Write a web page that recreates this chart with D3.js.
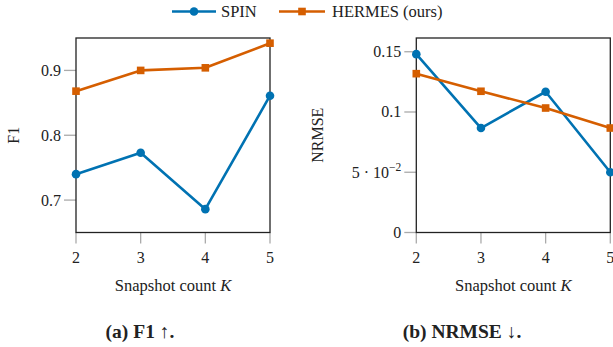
<!DOCTYPE html>
<html><head><meta charset="utf-8">
<script src="https://cdn.jsdelivr.net/npm/d3@7/dist/d3.min.js"></script>
<style>body{margin:0;background:#fff}svg{display:block}text{font-family:"Liberation Serif","Times New Roman",serif;fill:#222}</style>
</head><body><svg id="c" width="613" height="347"></svg>
<script>
const kValues = [2, 3, 4, 5];
const seriesNames = ["SPIN", "HERMES (ours)"];
const f1Spin = [0.740, 0.773, 0.686, 0.861];
const f1Hermes = [0.868, 0.900, 0.904, 0.942];
const nrmseSpin = [0.148, 0.0867, 0.1168, 0.050];
const nrmseHermes = [0.1318, 0.1172, 0.1033, 0.0867];
const f1Ticks = [0.7, 0.8, 0.9];
const nrmseTicks = [0, 0.05, 0.1, 0.15];
const nrmseTickLabels = ["0", "5 · 10", "0.1", "0.15"];
const colors = ["#0072B2", "#D55E00"];

const svg = d3.select("#c");
const plotTop = 38, plotBottom = 232.5;

function panel(x0, x1, yDomain, ticks, tickFmt, spin, hermes, yLabel, ylabX, caption, capX) {
  const g = svg.append("g");
  const x = d3.scaleLinear().domain([2, 5]).range([x0, x1]);
  const y = d3.scaleLinear().domain(yDomain).range([plotBottom, plotTop]);
  g.selectAll(".yt").data(ticks).join("line")
    .attr("x1", x0 - 12).attr("x2", x0).attr("y1", d => y(d)).attr("y2", d => y(d))
    .attr("stroke", "#aaa").attr("stroke-width", 1.3);
  g.selectAll(".xt").data(kValues).join("line")
    .attr("x1", d => x(d)).attr("x2", d => x(d)).attr("y1", plotBottom).attr("y2", plotBottom + 11)
    .attr("stroke", "#aaa").attr("stroke-width", 1.3);
  ticks.forEach((t, i) => {
    const lbl = tickFmt(t, i);
    const tx = g.append("text").attr("x", x0 - 15).attr("y", y(t) + 5.5)
      .attr("text-anchor", "end").attr("font-size", 16);
    if (lbl.sup) {
      tx.append("tspan").text(lbl.text);
      tx.append("tspan").attr("dy", -6.5).attr("font-size", 11.5).text(lbl.sup);
    } else tx.text(lbl.text);
  });
  g.selectAll(".xl").data(kValues).join("text")
    .attr("x", d => x(d)).attr("y", 263).attr("text-anchor", "middle")
    .attr("font-size", 16).text(d => d);
  g.append("rect").attr("x", x0).attr("y", plotTop).attr("width", x1 - x0).attr("height", plotBottom - plotTop)
    .attr("fill", "none").attr("stroke", "#222").attr("stroke-width", 1.3);
  const line = d3.line().x((d, i) => x(kValues[i])).y(d => y(d));
  [spin, hermes].forEach((s, si) => {
    g.append("path").datum(s).attr("d", line).attr("fill", "none")
      .attr("stroke", colors[si]).attr("stroke-width", 2.6).attr("stroke-linejoin", "round");
  });
  g.selectAll(".m1").data(spin).join("circle")
    .attr("cx", (d, i) => x(kValues[i])).attr("cy", d => y(d)).attr("r", 4.3).attr("fill", colors[0]);
  g.selectAll(".m2").data(hermes).join("rect")
    .attr("x", (d, i) => x(kValues[i]) - 3.8).attr("y", d => y(d) - 3.8)
    .attr("width", 7.6).attr("height", 7.6).attr("fill", colors[1]);
  const xl = g.append("text").attr("x", (x0 + x1) / 2).attr("y", 291).attr("text-anchor", "middle").attr("font-size", 16.5);
  xl.append("tspan").text("Snapshot count ");
  xl.append("tspan").attr("font-style", "italic").text("K");
  g.append("text").attr("transform", `translate(${ylabX},${(plotTop + plotBottom) / 2}) rotate(-90)`)
    .attr("text-anchor", "middle").attr("font-size", 16).text(yLabel);
  g.append("text").attr("x", capX).attr("y", 338).attr("text-anchor", "middle")
    .attr("font-size", 19.5).attr("font-weight", "bold").text(caption);
}

panel(76, 270, [0.65, 0.95], f1Ticks, t => ({text: d3.format(".1f")(t)}), f1Spin, f1Hermes, "F1", 19, "(a) F1 ↑.", 140);
panel(416.3, 610.3, [0, 0.1614], nrmseTicks, (t, i) => i === 1 ? {text: nrmseTickLabels[i], sup: "−2"} : {text: nrmseTickLabels[i]}, nrmseSpin, nrmseHermes, "NRMSE", 323, "(b) NRMSE ↓.", 462);

const leg = svg.append("g");
const legLine = [[172, 216], [279, 325]];
const legText = [221, 332];
seriesNames.forEach((n, i) => {
  const [a, b] = legLine[i];
  const mx = (a + b) / 2;
  leg.append("line").attr("x1", a).attr("x2", b).attr("y1", 11.5).attr("y2", 11.5)
    .attr("stroke", colors[i]).attr("stroke-width", 2.6);
  if (i === 0) leg.append("circle").attr("cx", mx).attr("cy", 11.5).attr("r", 4.3).attr("fill", colors[i]);
  else leg.append("rect").attr("x", mx - 3.8).attr("y", 11.5 - 3.8).attr("width", 7.6).attr("height", 7.6).attr("fill", colors[i]);
  leg.append("text").attr("x", legText[i]).attr("y", 17).attr("font-size", 16.5).text(n);
});
</script></body></html>
